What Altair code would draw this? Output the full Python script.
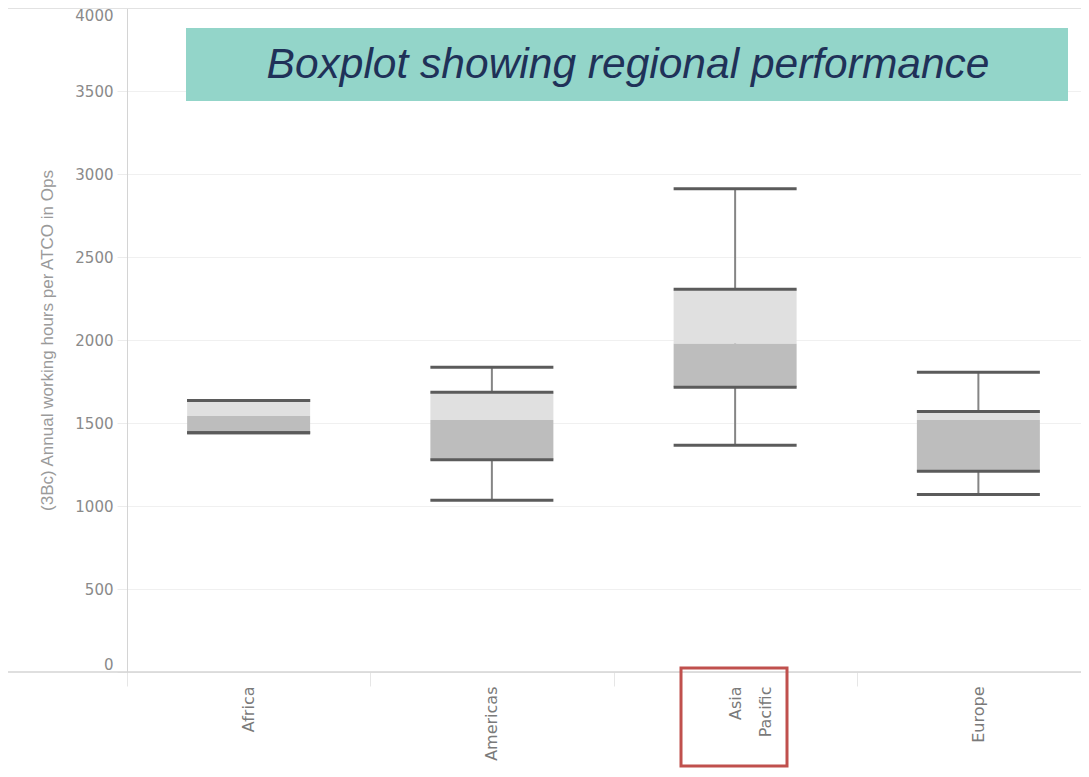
import altair as alt
import pandas as pd

# ---- data ----
regions = ["Africa", "Americas", "Asia Pacific", "Europe"]
lower = [1442, 1035, 1366, 1070]
q1 = [1442, 1278, 1716, 1210]
median = [1542, 1518, 1978, 1518]
q3 = [1636, 1685, 2305, 1570]
upper = [1636, 1836, 2911, 1806]
y_ticks = [0, 500, 1000, 1500, 2000, 2500, 3000, 3500, 4000]
y_title = "(3Bc) Annual working hours per ATCO in Ops"
chart_title = ["Boxplot showing regional performance"]

df = pd.DataFrame({"region": regions, "lower": lower, "q1": q1,
                   "median": median, "q3": q3, "upper": upper})
tdf = pd.DataFrame({"t": chart_title})

W, H = 954, 664
BOX = 123

x_enc = alt.X(
    "region:N", sort=regions, title=None,
    scale=alt.Scale(range=[0, 973], paddingInner=0, paddingOuter=0),
    axis=alt.Axis(
        labelAngle=270, labelFont="DejaVu Sans", labelFontSize=16,
        labelColor="#7a7a7a", labelPadding=0, labelLineHeight=30,
        labelExpr="split(datum.label, ' ')",
        domain=False, ticks=True, tickBand="extent", tickSize=14,
        tickColor="#e6e6e6", grid=False,
    ),
)
y_scale = alt.Scale(domain=[0, 4000], nice=False, zero=True)
y_axis = alt.Axis(
    values=y_ticks, format="d", labelFlush=True, labelFont="DejaVu Sans",
    labelFontSize=15, labelColor="#8a8a8a", labelPadding=4, tickSize=10,
    tickColor="#ececec", domainColor="#d4d4d4", gridColor="#f0f0f0", grid=True,
    titleFont="Liberation Sans", titleFontSize=17, titleFontWeight="normal",
    titleColor="#9a9a9a", titlePadding=18,
)

base = alt.Chart(df).encode(x=x_enc)

whisker = base.mark_rule(color="#858585", strokeWidth=2).encode(
    y=alt.Y("lower:Q", scale=y_scale, axis=y_axis, title=y_title),
    y2="upper:Q",
)
box_hi = base.mark_bar(size=BOX, color="#e0e0e0").encode(y="median:Q", y2="q3:Q")
box_lo = base.mark_bar(size=BOX, color="#bdbdbd").encode(y="q1:Q", y2="median:Q")
caps = base.transform_fold(
    ["lower", "q1", "q3", "upper"], as_=["stat", "value"]
).mark_tick(size=BOX, thickness=3, color="#5b5b5b", opacity=1).encode(y="value:Q")

one = alt.Chart(tdf)
bottom_line = one.mark_rule(color="#d4d4d4", strokeWidth=1.5).encode(
    x=alt.value(-119), x2=alt.value(W), y=alt.value(H))
top_line = one.mark_rule(color="#e2e2e2", strokeWidth=1).encode(
    x=alt.value(-119), x2=alt.value(W), y=alt.value(0.5))
title_rect = one.mark_rect(color="#93d5c9").encode(
    x=alt.value(59), x2=alt.value(941), y=alt.value(20), y2=alt.value(93))
title_text = one.mark_text(
    font="Liberation Sans", fontStyle="italic", fontSize=42.5, color="#1f3158",
    align="center", baseline="alphabetic",
).encode(text="t:N", x=alt.value(501), y=alt.value(70))
red_box = one.mark_rect(fillOpacity=0, stroke="#c0504d", strokeWidth=3).encode(
    x=alt.value(554), x2=alt.value(660), y=alt.value(660), y2=alt.value(758))

chart = alt.layer(
    whisker, box_hi, box_lo, caps, top_line, bottom_line, title_rect, title_text, red_box
).properties(
    width=W, height=H,
    autosize=alt.AutoSizeParams(type="none"),
    padding={"left": 119, "top": 0, "right": 0, "bottom": 97},
).configure_view(stroke=None).configure(background="white")

chart.save("out.html", embed_options={"renderer": "svg", "actions": False})
